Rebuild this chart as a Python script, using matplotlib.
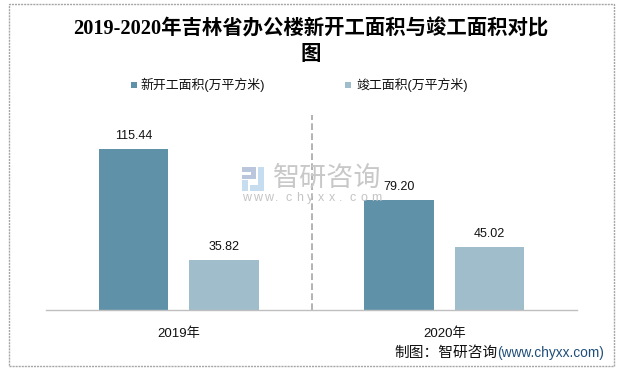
import matplotlib
matplotlib.use('Agg')
import matplotlib.pyplot as plt
from matplotlib.patches import Rectangle
import numpy as np

plt.rcParams['font.family'] = ['Liberation Sans', 'Noto Sans CJK SC']

years = ['2019年', '2020年']
series_names = ['新开工面积(万平方米)', '竣工面积(万平方米)']
new_area = [115.44, 79.20]
done_area = [35.82, 45.02]
colors = ['#5F91A8', '#9FBDCB']

W, H = 623, 372
fig = plt.figure(figsize=(W / 100, H / 100), dpi=100)


def fx(px):
    return px / W


def fy(py):
    return 1 - py / H


def box(x0, y0, w, h, c):
    # rectangle given in image pixels
    fig.add_artist(Rectangle((fx(x0), fy(y0 + h)), fx(w), fy(y0) - fy(y0 + h),
                             transform=fig.transFigure, color=c, linewidth=0))


# outer frame
fig.add_artist(Rectangle((fx(8.5), fy(366)), fx(605), fy(4) - fy(366), transform=fig.transFigure,
                         fill=False, edgecolor='#A6A6A6', linewidth=1, linestyle=(0, (1.5, 0.7))))

# axes in pixel position
ax = fig.add_axes([fx(46), fy(310), fx(531), fy(115) - fy(310)])
x = np.arange(len(years))
offset = 0.1704
bw = 0.262
b1 = ax.bar(x - offset, new_area, bw, color=colors[0])
b2 = ax.bar(x + offset, done_area, bw, color=colors[1])
ax.set_xlim(-0.5, 1.5)
ax.set_ylim(0, 140)
ax.set_yticks([])
ax.set_xticks(x)
ax.set_xticklabels(years, fontsize=9.5, color='#111111')
ax.tick_params(axis='x', length=0, pad=12.5)
for s in ['top', 'left', 'right']:
    ax.spines[s].set_visible(False)
ax.spines['bottom'].set_color('#BFBFBF')
ax.spines['bottom'].set_linewidth(1)
ax.patch.set_alpha(0)

for bars in (b1, b2):
    for r in bars:
        ax.annotate('%.2f' % r.get_height(), (r.get_x() + r.get_width() / 2, r.get_height()),
                    xytext=(0, 5), textcoords='offset points', ha='center', va='bottom',
                    fontsize=9, color='#111111')

# dashed divider
ax.axvline(0.5, color='#A6A6A6', linewidth=1.2, linestyle=(0, (4, 2)))

# title
fig.text(fx(311), fy(29), '2019-2020年吉林省办公楼新开工面积与竣工面积对比', ha='center', va='center',
         fontsize=14.7, fontweight='bold', family=['Liberation Serif', 'Noto Sans CJK SC'], color='black')
fig.text(fx(311), fy(54), '图', ha='center', va='center',
         fontsize=14.7, fontweight='bold', family=['Noto Sans CJK SC'], color='black')

# legend
for px, tx, name, c in zip([131, 345], [140, 356], series_names, colors):
    box(px, 82, 6, 6, c)
    fig.text(fx(tx), fy(85), name, ha='left', va='center', fontsize=9.3, color='#111111')

# watermark logo
for p, c in [((242, 167, 14, 5), '#B9C6DC'), ((251, 172, 5, 6), '#B9C6DC'), ((242, 175, 14, 4), '#B9C6DC'),
             ((242, 180, 6, 11), '#C5DDEE'), ((258, 167, 6, 18), '#C5DDEE'), ((250, 185, 14, 6), '#C5DDEE')]:
    box(p[0], p[1], p[2], p[3], c)
fig.text(fx(273), fy(178), '智研咨询', ha='left', va='center', fontsize=19.5, color='#C8C8C8',
         family=['Noto Sans CJK SC'])
for i, ch in enumerate('www.chyxx.com'):
    fig.text(fx(242 + i * 10.8), fy(198), ch, ha='left', va='center', fontsize=9, color='#C4C4C4')

# source
fig.text(fx(394), fy(353), '制图：智研咨询', ha='left', va='center', fontsize=10.6, color='#111111',
         family=['Noto Sans CJK SC'])
fig.text(fx(497), fy(353), '(www.chyxx.com)', ha='left', va='center', fontsize=9.9, color='#1F4E79')

fig.savefig('out.png', dpi=100)
